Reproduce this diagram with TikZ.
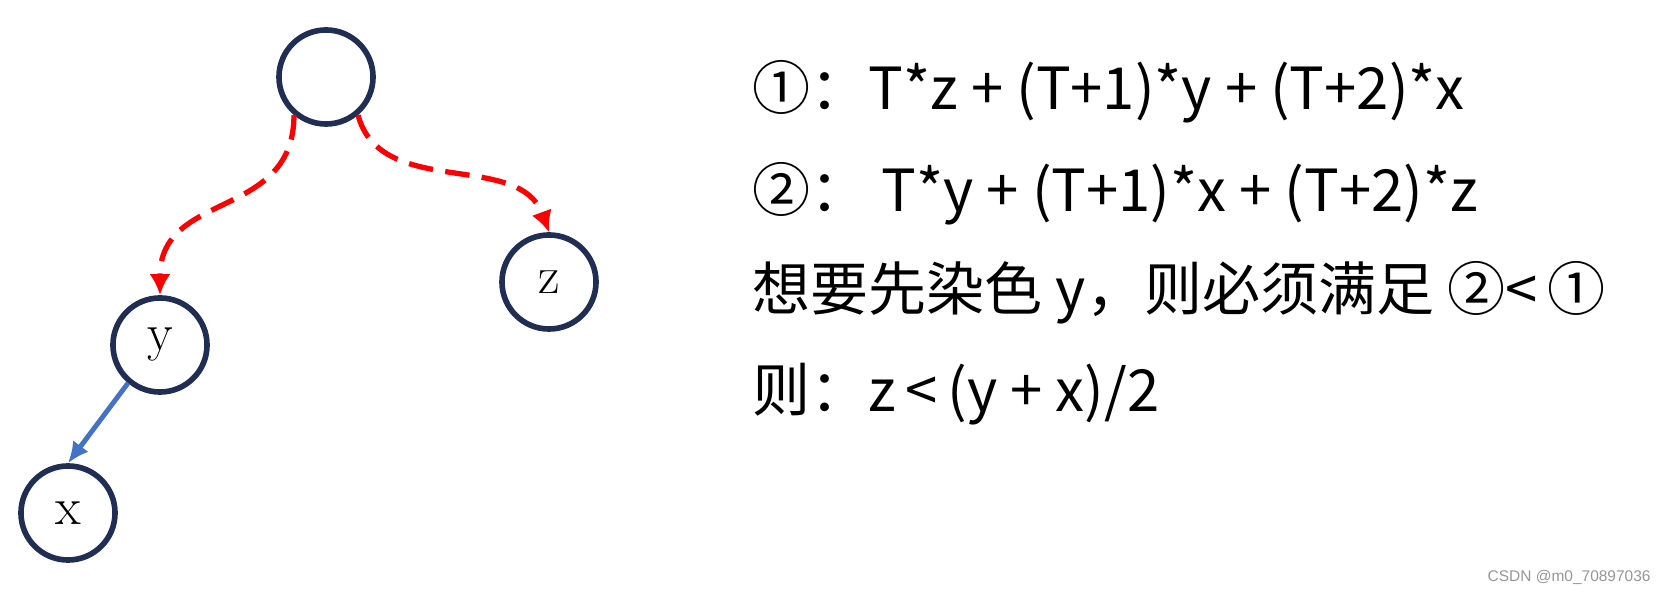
\documentclass[tikz,border=0pt]{standalone}
\usepackage{fontspec}
\usepackage{tikz}
\usetikzlibrary{arrows.meta,positioning}
\newfontfamily\cjk{Noto Sans CJK SC}
\newfontfamily\wmfont{Liberation Sans}
\definecolor{ringblue}{RGB}{31,46,82}
\definecolor{edgeblue}{RGB}{68,114,196}
\definecolor{wmgray}{RGB}{150,150,150}
\tikzset{vertex/.style={circle,draw=ringblue,line width=1.6pt,minimum size=0.94cm,inner sep=0pt,font=\fontsize{15}{15}\selectfont}}
\tikzset{redarc/.style={red,line width=1.5pt,dash pattern=on 7pt off 3.5pt,-{Latex[length=6pt,width=6pt]}}}
\tikzset{bluearc/.style={edgeblue,line width=1.4pt,-{Latex[length=6pt,width=5.5pt]}}}
\tikzset{formula/.style={anchor=base west,inner sep=0pt,font=\cjk\fontsize{16.5}{19}\selectfont}}

\begin{document}
\begin{tikzpicture}[x=0.01cm,y=0.01cm]
\useasboundingbox (0,0) rectangle (1677,-595);
\node[vertex] (root) at (326,-77) {};
\node[vertex] (z) at (549,-282) {z};
\node[vertex] (y) at (160,-345) {y};
\node[vertex] (x) at (68,-513) {x};
\draw[redarc] (root.-130) to[out=-90,in=90,looseness=1.2] (y.north);
\draw[redarc] (root.-50) to[out=-75,in=110] (z.north);
\draw[bluearc] (y.-130) -- (x.north);
% formulas on the right
\node[formula] (f1) at (752,-110) {①：T*z + (T+1)*y + (T+2)*x};
\node[formula] (f2) at (752,-212) {②：\ T*y + (T+1)*x + (T+2)*z};
\node[formula] (f3) at (752,-311) {想要先染色 y，则必须满足 ②<\,①};
\node[formula] (f4) at (752,-412) {则：z\,<\,(y + x)/2};
\node[anchor=base west,inner sep=0pt,text=wmgray,font=\wmfont\fontsize{4.4}{5}\selectfont] (mark) at (1487,-582) {CSDN @m0\_70897036};
\end{tikzpicture}
\end{document}
